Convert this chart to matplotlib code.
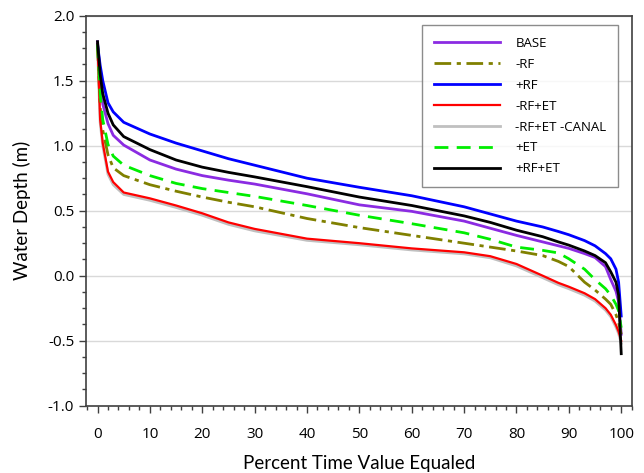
import matplotlib
matplotlib.use("Agg")
import matplotlib.pyplot as plt
from matplotlib.ticker import MultipleLocator

plt.rcParams['font.family'] = ['Open Sans', 'DejaVu Sans']

pct = [0, 0.5, 1, 2, 3, 5, 10, 15, 20, 25, 30, 40, 50, 60, 70, 75, 80, 85, 88, 90, 93, 95, 97, 98, 99, 99.5, 100]

base = [1.80, 1.50, 1.32, 1.17, 1.08, 1.005, 0.89, 0.82, 0.77, 0.735, 0.705, 0.63, 0.545, 0.495, 0.42, 0.365, 0.31, 0.26, 0.23, 0.21, 0.17, 0.14, 0.07, -0.03, -0.12, -0.20, -0.45]
minus_rf = [1.78, 1.30, 1.12, 0.93, 0.83, 0.77, 0.70, 0.65, 0.605, 0.565, 0.53, 0.44, 0.37, 0.31, 0.25, 0.22, 0.19, 0.155, 0.11, 0.07, -0.05, -0.11, -0.18, -0.22, -0.30, -0.36, -0.45]
plus_rf = [1.78, 1.62, 1.50, 1.33, 1.26, 1.18, 1.09, 1.02, 0.96, 0.90, 0.85, 0.75, 0.68, 0.615, 0.53, 0.475, 0.42, 0.375, 0.34, 0.315, 0.27, 0.23, 0.17, 0.13, 0.05, -0.05, -0.31]
minus_rf_et = [1.78, 1.20, 1.02, 0.80, 0.72, 0.64, 0.595, 0.54, 0.48, 0.41, 0.36, 0.285, 0.25, 0.21, 0.18, 0.15, 0.09, 0.0, -0.055, -0.085, -0.135, -0.18, -0.25, -0.30, -0.38, -0.43, -0.50]
minus_rf_et_canal = [1.76, 1.18, 1.00, 0.78, 0.70, 0.625, 0.58, 0.525, 0.465, 0.395, 0.345, 0.272, 0.238, 0.198, 0.168, 0.138, 0.075, -0.015, -0.07, -0.10, -0.15, -0.195, -0.265, -0.315, -0.395, -0.445, -0.52]
plus_et = [1.78, 1.40, 1.20, 1.01, 0.92, 0.85, 0.77, 0.71, 0.67, 0.64, 0.61, 0.54, 0.465, 0.40, 0.33, 0.28, 0.22, 0.195, 0.175, 0.13, 0.05, -0.03, -0.10, -0.15, -0.22, -0.27, -0.40]
plus_rf_et = [1.80, 1.55, 1.40, 1.25, 1.16, 1.07, 0.97, 0.89, 0.835, 0.795, 0.76, 0.685, 0.605, 0.54, 0.46, 0.41, 0.35, 0.30, 0.26, 0.235, 0.19, 0.155, 0.10, 0.03, -0.05, -0.15, -0.60]

labels = ['BASE', '-RF', '+RF', '-RF+ET', '-RF+ET -CANAL', '+ET', '+RF+ET']
xticks = [0, 10, 20, 30, 40, 50, 60, 70, 80, 90, 100]
yticks = [-1.0, -0.5, 0.0, 0.5, 1.0, 1.5, 2.0]

fig = plt.figure(figsize=(6.44, 4.73), dpi=100)
ax = fig.add_axes([86/644, 1 - 405.7/473, (631.7 - 86)/644, (405.7 - 15.7)/473])

ax.grid(axis='y', color='#d9d9d9', linewidth=1.0, zorder=0)

l_base, = ax.plot(pct, base, color='#8B2BE2', lw=2.0, label=labels[0], zorder=3)
l_mrf, = ax.plot(pct, minus_rf, color='#808000', lw=2.0, ls=(0, (6, 2, 1.5, 2)), label=labels[1], zorder=3)
l_prf, = ax.plot(pct, plus_rf, color='#0000FF', lw=2.0, label=labels[2], zorder=3)
l_canal, = ax.plot(pct, minus_rf_et_canal, color='#C0C0C0', lw=2.0, label=labels[4], zorder=2)
l_mrfet, = ax.plot(pct, minus_rf_et, color='#FF0000', lw=1.6, label=labels[3], zorder=3)
l_et, = ax.plot(pct, plus_et, color='#00EE00', lw=2.0, ls=(0, (5, 3)), label=labels[5], zorder=3)
l_prfet, = ax.plot(pct, plus_rf_et, color='#000000', lw=2.0, label=labels[6], zorder=4)

handles = [l_base, l_mrf, l_prf, l_mrfet, l_canal, l_et, l_prfet]
leg = ax.legend(handles, labels, loc='upper left', bbox_to_anchor=((421.7 - 86)/545.7, 1 - (25 - 15.7)/390),
                frameon=True, fancybox=False, edgecolor='#707070', fontsize=9.5,
                handlelength=5.0, handletextpad=1.2, labelspacing=0.6, borderpad=0.9, borderaxespad=0)
leg.get_frame().set_linewidth(1.0)

ax.set_xlim(-2.2, 102)
ax.set_ylim(-1.0, 2.0)
ax.set_xticks(xticks)
ax.set_yticks(yticks)
ax.set_yticklabels([f'{v:.1f}' for v in yticks])
ax.xaxis.set_minor_locator(MultipleLocator(2))
ax.yaxis.set_minor_locator(MultipleLocator(0.125))
ax.tick_params(axis='both', which='major', direction='out', length=5, width=1, labelsize=11, color='#404040')
ax.tick_params(axis='both', which='minor', direction='out', length=3, width=1, color='#404040')
ax.tick_params(axis='x', pad=10)
for s in ax.spines.values():
    s.set_color('#404040')
    s.set_linewidth(1.2)

ax.set_xlabel('Percent Time Value Equaled', fontsize=13.5, family=['Lato', 'DejaVu Sans'], labelpad=10)
ax.set_ylabel('Water Depth (m)', fontsize=13.5, family=['Lato', 'DejaVu Sans'], labelpad=12)

fig.savefig('out.png', dpi=100)
